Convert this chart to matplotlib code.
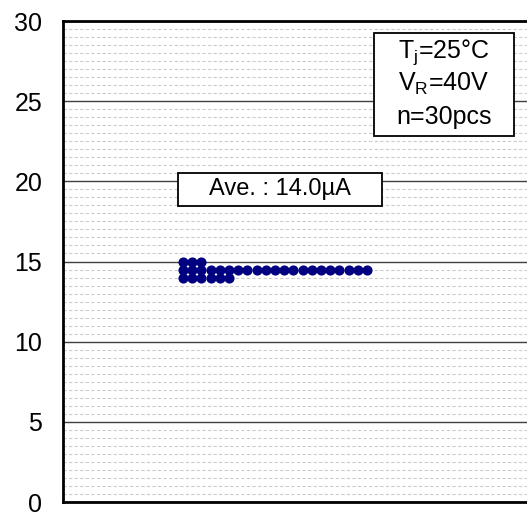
import matplotlib
matplotlib.use("Agg")
import matplotlib.pyplot as plt
from matplotlib.patches import Rectangle
from matplotlib.ticker import MultipleLocator

plt.rcParams.update({"font.family": ["Liberation Sans", "DejaVu Sans"],
                     "mathtext.fontset": "custom",
                     "mathtext.rm": "Liberation Sans",
                     "mathtext.it": "Liberation Sans"})

# Leakage current per sample (uA) -> number of samples at that value
values = [15.0, 14.5, 14.0]
counts = [3, 21, 6]
average = 14.0
cond_lines = [r"T$_{\rm j}$=25°C", r"V$_{\rm R}$=40V", "n=30pcs"]

NAVY = "#000080"

fig = plt.figure(figsize=(5.27, 5.13), dpi=100)
ax = fig.add_axes([63 / 527, 11 / 513, 466 / 527, 481 / 513])

# dot map: each sample stacked to the right along its value row
for v, c in zip(values, counts):
    ax.plot(range(c), [v] * c, "o", color=NAVY, ms=7.3, mec=NAVY, mew=0, zorder=3)

ax.set_ylim(0, 30)
ax.set_xlim(-13.04, 37.6)
ax.yaxis.set_major_locator(MultipleLocator(5))
ax.yaxis.set_minor_locator(MultipleLocator(0.5))
ax.grid(which="major", axis="y", color="#404040", lw=1.0)
ax.grid(which="minor", axis="y", color="#cccccc", lw=0.8, ls=(0, (3, 2)))
ax.set_axisbelow(True)
ax.set_xticks([])
ax.tick_params(axis="y", which="both", length=0, labelsize=18, pad=15)
for s in ax.spines.values():
    s.set_linewidth(2.0)
    s.set_color("black")

# average label
ax.add_patch(Rectangle((0.2473, 0.6162), 0.438, 0.0685, transform=ax.transAxes,
                       fc="white", ec="black", lw=1.3, zorder=4))
ax.text(0.2473 + 0.219, 0.6162 + 0.034, f"Ave. : {average:.1f}µA", transform=ax.transAxes,
        ha="center", va="center", fontsize=17, zorder=5)

# condition box
ax.add_patch(Rectangle((0.6667, 0.7614), 0.301, 0.2137, transform=ax.transAxes,
                       fc="white", ec="black", lw=1.3, zorder=4))
for t, y in zip(cond_lines, [0.9357, 0.8693, 0.8008]):
    ax.text(0.8172, y, t, transform=ax.transAxes, ha="center", va="center",
            fontsize=18, zorder=5)

fig.savefig("out.png", dpi=100)
